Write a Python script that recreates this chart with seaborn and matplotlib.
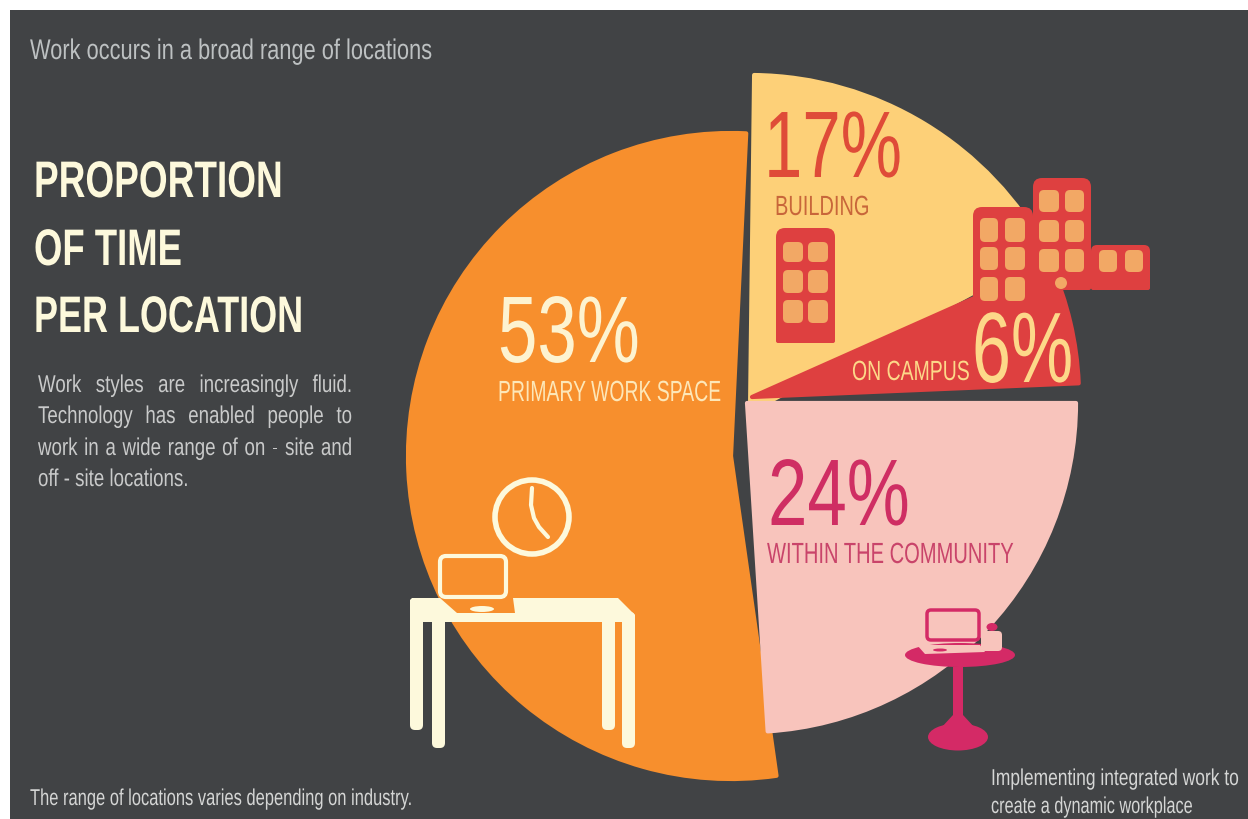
import matplotlib
matplotlib.use("Agg")
import matplotlib.pyplot as plt
from matplotlib.patches import Rectangle, FancyBboxPatch, Polygon, Circle, Ellipse
from matplotlib.patheffects import AbstractPathEffect
from matplotlib.text import Text
from matplotlib.transforms import Affine2D, Bbox
import seaborn as sns

# Share of working time per location, in percent
locations = ["PRIMARY WORK SPACE", "BUILDING", "ON CAMPUS", "WITHIN THE COMMUNITY"]
shares = [53, 17, 6, 24]
share_labels = ["53%", "17%", "6%", "24%"]

heading_lines = ["PROPORTION", "OF TIME", "PER LOCATION"]
top_note = "Work occurs in a broad range of locations"
body_lines = [
    "Work styles are increasingly fluid.",
    "Technology has enabled people to",
    "work in a wide range of on - site and",
]
body_last_line = "off - site locations."
left_note = "The range of locations varies depending on industry."
right_note_lines = ["Implementing integrated work to", "create a dynamic workplace"]

sns.set_theme(style="white")
plt.rcParams["font.family"] = ["Liberation Sans", "DejaVu Sans"]

BG, ORANGE, YELLOW, RED, PINK, MAGENTA, CREAM = sns.color_palette(
    ["#414345", "#F78F2D", "#FDD078", "#DE4040", "#F8C4BC", "#D42A66", "#FDF9DC"]
)
WINDOW = "#F2A865"

W, H = 1248, 819
fig = plt.figure(figsize=(W / 100, H / 100), dpi=100, facecolor="white")
ax = fig.add_axes([0, 0, 1, 1])


def Y(y):
    return H - y


class Squeeze(AbstractPathEffect):
    """Narrows glyph outlines horizontally about the text origin."""

    def __init__(self, factor):
        super().__init__()
        self.factor = factor

    def draw_path(self, renderer, gc, tpath, affine, rgbFace=None):
        renderer.draw_path(gc, tpath, Affine2D().scale(self.factor, 1) + affine, rgbFace)


class NarrowText(Text):
    """Left-aligned text set in a condensed width."""

    def __init__(self, *args, squeeze=0.75, **kwargs):
        super().__init__(*args, **kwargs)
        self.squeeze = squeeze
        self.set_path_effects([Squeeze(squeeze)])

    def get_window_extent(self, renderer=None, dpi=None):
        box = super().get_window_extent(renderer, dpi)
        return Bbox.from_extents(box.x0, box.y0, box.x0 + box.width * self.squeeze, box.y1)


ax.add_patch(Rectangle((10, 0), W - 10, H - 10, fc=BG, ec="none", zorder=0))

# One exploded slice per location: centre, radius and start angle differ per slice
slice_layout = {
    "PRIMARY WORK SPACE": ((731, 456), 323, 87.3 + 190.8, ORANGE, 1),
    "BUILDING": ((750, 412), 337, 89.3, YELLOW, 2),
    "ON CAMPUS": ((752, 397), 327, 24.0, RED, 3),
    "WITHIN THE COMMUNITY": ((747, 403), 329, 0, PINK, 2),
}
for loc, share in zip(locations, shares):
    (cx, cy), r, start, colour, z = slice_layout[loc]
    wedges, _ = ax.pie(
        [share / 100], normalize=False, center=(cx, Y(cy)), radius=r,
        startangle=start, counterclock=False, colors=[colour], frame=True,
        wedgeprops=dict(edgecolor=colour, linewidth=3, joinstyle="round"),
    )
    wedges[0].set_zorder(z)


def rbox(x0, y0, x1, y1, fc, ec="none", lw=0, rad=4, z=5):
    ax.add_patch(FancyBboxPatch(
        (x0 + rad, Y(y1) + rad), x1 - x0 - 2 * rad, y1 - y0 - 2 * rad,
        boxstyle=f"round,pad={rad},rounding_size={rad}", fc=fc, ec=ec, lw=lw, zorder=z,
    ))


def tower(x0, y0, x1, y1, cols, rows, top_rad=9):
    rbox(x0, y0, x1, y1, RED, rad=top_rad, z=4)
    rbox(x0, y0 + 30, x1, y1, RED, rad=2, z=4)
    for wx0, wx1 in cols:
        for wy0, wy1 in rows:
            rbox(wx0, wy0, wx1, wy1, WINDOW, rad=5, z=5)


# Buildings
tower(776, 228, 835, 343, [(783, 803), (808, 828)], [(242, 262), (270, 293), (300, 323)])
tower(973, 207, 1033, 310, [(980, 998), (1005, 1025)], [(218, 242), (247, 270), (277, 301)])
tower(1033, 178, 1091, 290, [(1039, 1059), (1065, 1084)], [(190, 212), (220, 242), (249, 272)])
tower(1091, 245, 1150, 290, [(1099, 1117), (1125, 1143)], [(250, 272)], top_rad=6)
ax.add_patch(Circle((1061, Y(283)), 6, fc=WINDOW, ec="none", zorder=5))

# Desk, laptop and clock
desk = [(412, 598), (618, 598), (635, 615), (635, 622), (445, 622), (410, 622), (410, 600)]
ax.add_patch(Polygon([(x, Y(y)) for x, y in desk], fc=CREAM, ec="none", zorder=5))
for x0, x1, bottom in [(410, 423, 730), (432, 445, 748), (602, 615, 730), (622, 635, 748)]:
    rbox(x0, 612, x1, bottom, CREAM, rad=5, z=5)
base = [(440, 598), (513, 598), (515, 613), (457, 613)]
ax.add_patch(Polygon([(x, Y(y)) for x, y in base], fc=ORANGE, ec="none", zorder=6))
ax.add_patch(Ellipse((482, Y(609)), 24, 6, fc=CREAM, ec="none", zorder=7))
rbox(440, 556, 506, 597, ORANGE, ec=CREAM, lw=3, rad=6, z=7)
ax.add_patch(Circle((532, Y(517)), 37, fc="none", ec=CREAM, lw=4, zorder=6))
ax.plot([532, 531, 534, 539, 548], [Y(488), Y(505), Y(518), Y(527), Y(537)],
        color=CREAM, lw=3, solid_capstyle="round", zorder=6)

# Café table with laptop and cup
ax.add_patch(Ellipse((960, Y(655)), 110, 24, fc=MAGENTA, ec="none", zorder=5))
stem = [(953, 667), (963, 667), (963, 715), (975, 728), (941, 728), (953, 715)]
ax.add_patch(Polygon([(x, Y(y)) for x, y in stem], fc=MAGENTA, ec="none", zorder=5))
ax.add_patch(Ellipse((958, Y(737)), 60, 27, fc=MAGENTA, ec="none", zorder=5))
table_top = [(917, 645), (980, 645), (985, 652), (925, 654)]
ax.add_patch(Polygon([(x, Y(y)) for x, y in table_top], fc=PINK, ec="none", zorder=6))
ax.add_patch(Ellipse((940, Y(650)), 14, 3, fc=MAGENTA, ec="none", zorder=7))
rbox(927, 610, 979, 640, PINK, ec=MAGENTA, lw=2.5, rad=4, z=7)
rbox(981, 631, 1002, 651, PINK, rad=4, z=7)
ax.add_patch(Ellipse((992, Y(627)), 11, 8, fc=MAGENTA, ec="none", zorder=7))


def put(x, y, s, size, colour, squeeze=0.75, **kw):
    t = NarrowText(x, Y(y), s, squeeze=squeeze, fontsize=size, color=colour,
                   va="baseline", zorder=9, **kw)
    ax.add_artist(t)
    return t


# Headings and notes
put(30, 59, top_note, 20.5, "#BDC1C2", squeeze=0.766)
for line, y, sq in zip(heading_lines, [197, 265, 332], [0.72, 0.71, 0.70]):
    put(34, y, line, 37, CREAM, squeeze=sq, fontweight="bold")
renderer = fig.canvas.get_renderer()


def justified(line, x0, x1, y, size, colour, squeeze):
    words = line.split()
    texts = [put(0, y, w, size, colour, squeeze=squeeze) for w in words]
    sizes = [t.get_window_extent(renderer).width for t in texts]
    gap = (x1 - x0 - sum(sizes)) / (len(words) - 1)
    x = x0
    for t, w in zip(texts, sizes):
        t.set_x(x)
        x += w + gap


for line, y in zip(body_lines, [392, 423, 455]):
    justified(line, 38, 352, y, 17.5, "#C9CACA", 0.77)
put(38, 486, body_last_line, 17.5, "#C9CACA", squeeze=0.77)
put(30, 805, left_note, 16.5, "#D5D6D5", squeeze=0.72)
for line, y, sq in zip(right_note_lines, [785, 813], [0.76, 0.71]):
    put(991, y, line, 16.5, "#D5D6D5", squeeze=sq)

# Percentages and location names on their slices
label_style = {
    "PRIMARY WORK SPACE": ((498, 362), 68, 0.75, "#FDF3D0", (498, 401), 21, 0.665, "#FDE7B8"),
    "BUILDING": ((764, 177), 68, 0.73, "#DF4B38", (775, 215), 20, 0.72, "#C8663A"),
    "ON CAMPUS": ((972, 382), 72, 0.70, "#FDD889", (852, 380), 20, 0.70, "#FDD889"),
    "WITHIN THE COMMUNITY": ((768, 525), 68, 0.75, "#CF2E63", (767, 563), 21, 0.69, "#C9446A"),
}
for loc, pct in zip(locations, share_labels):
    (px, py), psize, psq, pcol, (lx, ly), lsize, lsq, lcol = label_style[loc]
    put(px, py, pct, psize, pcol, squeeze=psq)
    put(lx, ly, loc, lsize, lcol, squeeze=lsq)

ax.set_xlim(0, W)
ax.set_ylim(0, H)
ax.axis("off")
fig.savefig("out.png", dpi=100, facecolor="white")
